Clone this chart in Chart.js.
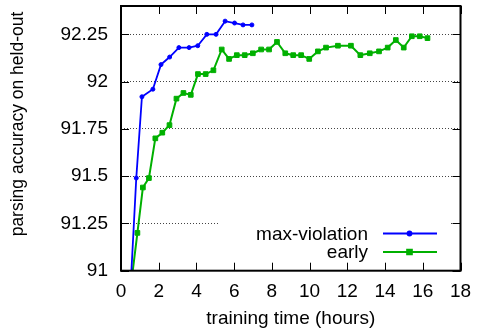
<!DOCTYPE html>
<html>
<head>
<meta charset="utf-8">
<script src="https://cdn.jsdelivr.net/npm/chart.js@4"></script>
<style>
  html, body { margin: 0; padding: 0; background: #fff; }
  #wrap { width: 477px; height: 330px; }
</style>
</head>
<body>
<div id="wrap"><canvas id="accChart"></canvas></div>
<script>
// hours of training vs. held-out parsing accuracy
const maxViolationHours = [0.5, 0.81, 1.11, 1.69, 2.12, 2.58, 3.07, 3.61, 4.07, 4.55, 5.04, 5.52, 6.02, 6.47, 6.94];
const maxViolationAcc = [90.9, 91.49, 91.92, 91.96, 92.09, 92.13, 92.18, 92.18, 92.19, 92.25, 92.25, 92.32, 92.31, 92.30, 92.30];

const earlyHours = [0.5, 0.87, 1.16, 1.48, 1.82, 2.19, 2.57, 2.94, 3.31, 3.70, 4.08, 4.49, 4.90, 5.34, 5.73,
  6.14, 6.56, 6.99, 7.43, 7.85, 8.27, 8.71, 9.13, 9.55, 9.98, 10.44, 10.87, 11.50, 12.19, 12.69,
  13.19, 13.68, 14.14, 14.57, 14.99, 15.42, 15.84, 16.25];
const earlyAcc = [90.9, 91.20, 91.44, 91.49, 91.70, 91.73, 91.77, 91.91, 91.94, 91.93, 92.04, 92.04, 92.06, 92.17, 92.12,
  92.14, 92.14, 92.15, 92.17, 92.17, 92.21, 92.15, 92.14, 92.14, 92.12, 92.16, 92.18, 92.19, 92.19, 92.14,
  92.15, 92.16, 92.18, 92.22, 92.18, 92.24, 92.24, 92.23];

const xTicks = [0, 2, 4, 6, 8, 10, 12, 14, 16, 18];
const yTicks = [91, 91.25, 91.5, 91.75, 92, 92.25];

const xTitle = 'training time (hours)';
const yTitle = 'parsing accuracy on held-out';

const FAMILY = "'Liberation Sans', Arial, sans-serif";
const FONT = { family: FAMILY, size: 19 };

function toPoints(xs, ys) {
  return xs.map((x, i) => ({ x: x, y: ys[i] }));
}

// gnuplot-like frame: inward ticks on all four sides, legend box, rotated y title
const framePlugin = {
  id: 'frame',
  afterDraw(chart) {
    const ctx = chart.ctx;
    const a = chart.chartArea;
    const xs = chart.scales.x, ys = chart.scales.y;
    ctx.save();

    // legend box (blanks the grid behind it)
    ctx.fillStyle = '#fff';
    ctx.fillRect(218, 214, 232, 48);
    ctx.font = FONT.size + 'px ' + FAMILY;
    ctx.textAlign = 'right';
    ctx.textBaseline = 'middle';
    chart.data.datasets.forEach((ds, i) => {
      const y = 233.5 + i * 18.5;
      ctx.fillStyle = '#000';
      ctx.fillText(ds.label, 368, y + 1);
      ctx.strokeStyle = ds.borderColor;
      ctx.lineWidth = ds.borderWidth;
      ctx.beginPath();
      ctx.moveTo(383, y);
      ctx.lineTo(437, y);
      ctx.stroke();
      Chart.helpers.drawPoint(ctx, {
        pointStyle: ds.pointStyle, radius: ds.pointRadius, borderWidth: 1
      }, 409.5, y);
      ctx.fillStyle = ds.pointBackgroundColor;
      ctx.fill();
    });

    // tick marks
    ctx.strokeStyle = '#000';
    ctx.lineWidth = 1;
    const tl = 8;
    ctx.beginPath();
    xTicks.forEach(v => {
      const px = Math.round(xs.getPixelForValue(v)) + 0.5;
      ctx.moveTo(px, a.bottom); ctx.lineTo(px, a.bottom - tl);
      ctx.moveTo(px, a.top); ctx.lineTo(px, a.top + tl);
    });
    yTicks.forEach(v => {
      const py = Math.round(ys.getPixelForValue(v)) + 0.5;
      ctx.moveTo(a.left, py); ctx.lineTo(a.left + tl, py);
      ctx.moveTo(a.right, py); ctx.lineTo(a.right - tl, py);
    });
    ctx.stroke();

    // frame
    ctx.lineWidth = 2;
    ctx.strokeRect(a.left, a.top, a.right - a.left, a.bottom - a.top);

    // y title
    ctx.fillStyle = '#000';
    ctx.font = '17.5px ' + FAMILY;
    ctx.textAlign = 'center';
    ctx.textBaseline = 'middle';
    ctx.translate(18, 124);
    ctx.rotate(-Math.PI / 2);
    ctx.fillText(yTitle, 0, 0);
    ctx.restore();
  }
};

const ctx = document.getElementById('accChart').getContext('2d');

new Chart(ctx, {
  type: 'line',
  data: {
    datasets: [
      {
        label: 'max-violation',
        data: toPoints(maxViolationHours, maxViolationAcc),
        borderColor: '#0000ff',
        backgroundColor: '#0000ff',
        pointBackgroundColor: '#0000ff',
        pointBorderColor: '#0000ff',
        borderWidth: 1.8,
        pointStyle: 'circle',
        pointRadius: 2,
        pointBorderWidth: 1,
        tension: 0
      },
      {
        label: 'early',
        data: toPoints(earlyHours, earlyAcc),
        borderColor: '#00b000',
        backgroundColor: '#00b000',
        pointBackgroundColor: '#00b000',
        pointBorderColor: '#00b000',
        borderWidth: 2,
        pointStyle: 'rect',
        pointRadius: 3.3,
        pointBorderWidth: 1,
        tension: 0
      }
    ]
  },
  options: {
    responsive: true,
    maintainAspectRatio: false,
    animation: false,
    layout: { padding: { top: 6, right: 16.5, left: 0, bottom: 0 } },
    plugins: {
      legend: { display: false },
      tooltip: { enabled: false }
    },
    scales: {
      x: {
        type: 'linear',
        min: 0,
        max: 18,
        afterBuildTicks: s => { s.ticks = xTicks.map(v => ({ value: v })); },
        afterFit: s => { s.height = 59.3; s.paddingLeft = 0; s.paddingRight = 0; },
        grid: { display: false },
        border: { display: false },
        ticks: { color: '#000', font: FONT, padding: 2, maxRotation: 0, autoSkip: false },
        title: { display: true, text: xTitle, color: '#000', font: FONT, padding: { top: 0, bottom: 0 } }
      },
      y: {
        type: 'linear',
        min: 91,
        max: 92.4,
        afterBuildTicks: s => { s.ticks = yTicks.map(v => ({ value: v })); },
        afterFit: s => { s.width = 121; s.paddingTop = 0; s.paddingBottom = 0; },
        grid: { color: '#444', lineWidth: 1, drawTicks: false },
        border: { display: false, dash: [1, 2] },
        ticks: { color: '#000', font: FONT, padding: 13, autoSkip: false, callback: v => String(v) }
      }
    }
  },
  plugins: [framePlugin]
});
</script>
</body>
</html>
